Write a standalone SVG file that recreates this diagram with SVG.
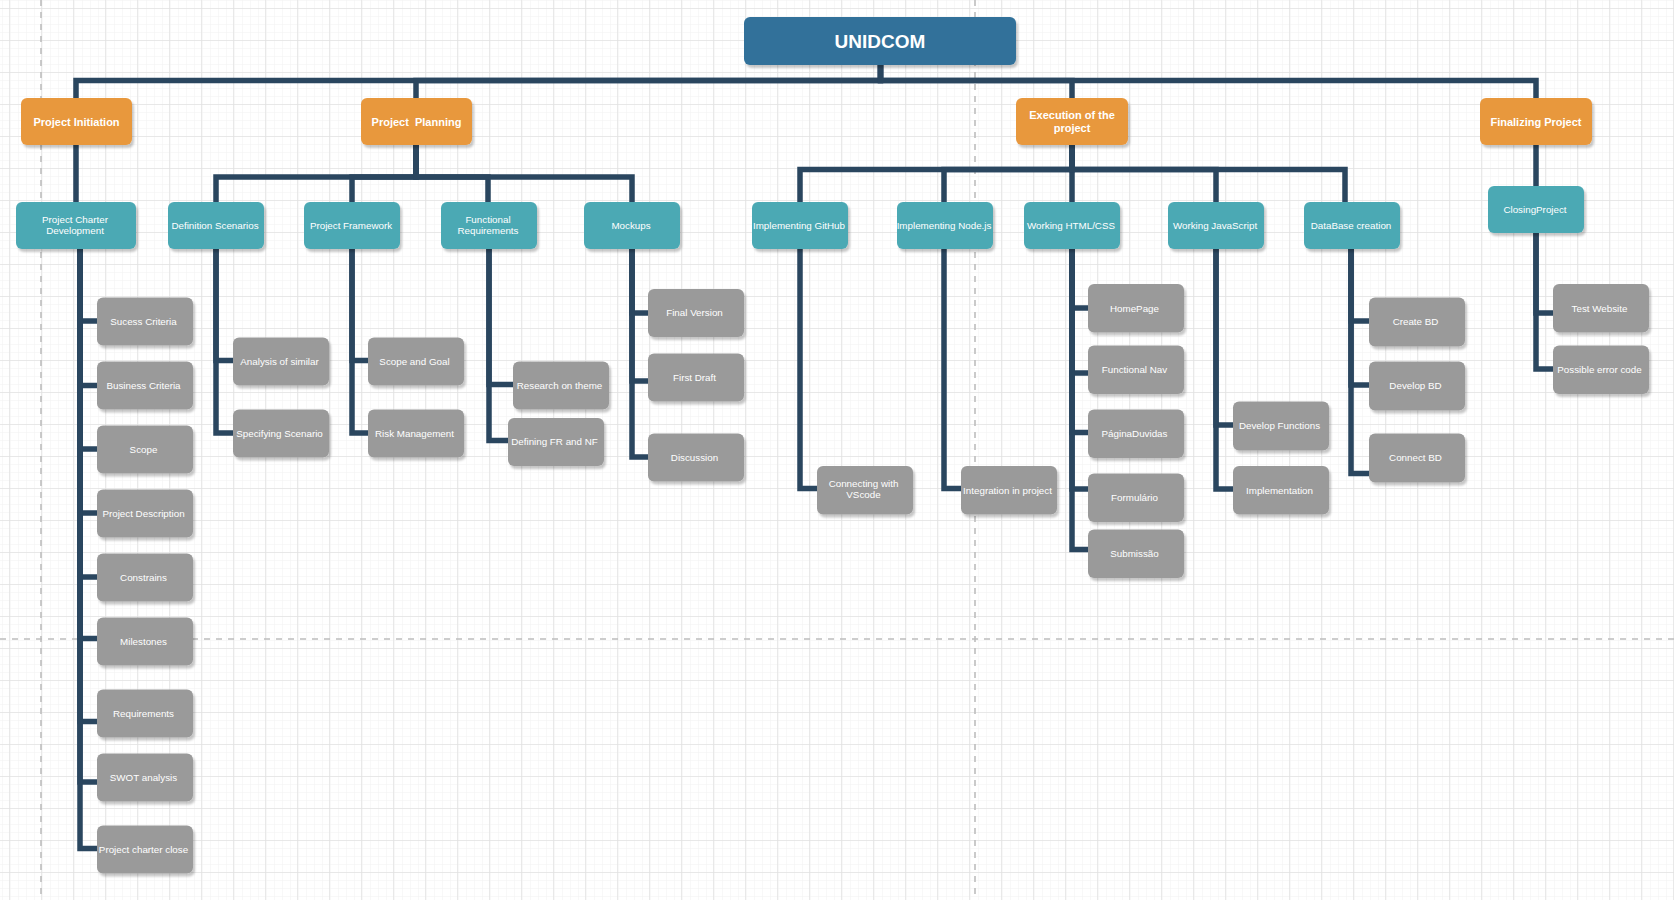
<svg xmlns="http://www.w3.org/2000/svg" width="1674" height="900" viewBox="0 0 1674 900">
  <defs>
    <pattern id="gridMinor" width="8" height="8" patternUnits="userSpaceOnUse" x="9" y="8">
      <path d="M0 0H8M0 0V8" fill="none" stroke="#f1f1f1" stroke-width="1"/>
    </pattern>
    <pattern id="gridMajor" width="32" height="32" patternUnits="userSpaceOnUse" x="9" y="8">
      <rect width="32" height="32" fill="url(#gridMinor)"/>
      <path d="M0 0H32M0 0V32" fill="none" stroke="#e2e2e2" stroke-width="1.5"/>
    </pattern>
    <filter id="shadow" x="-10%" y="-10%" width="130%" height="140%">
      <feDropShadow dx="2" dy="3" stdDeviation="0.8" flood-color="#000" flood-opacity="0.22"/>
    </filter>
  </defs>
  <style>
    .node rect { filter: url(#shadow); }
    .root rect { fill: #30719A; }
    .phase rect { fill: #E8983E; }
    .group rect { fill: #4CA9B4; }
    .task rect { fill: #9A9A9A; }
    text { font-family: "Liberation Sans", Arial, Helvetica, sans-serif; fill: #ffffff; text-anchor: middle; }
    .root text { font-size: 19px; font-weight: bold; }
    .phase text { font-size: 11px; font-weight: bold; }
    .group text, .task text { font-size: 9.8px; }
    .edges path { fill: none; stroke: #2A465F; stroke-width: 5.5; stroke-linejoin: miter; stroke-linecap: butt; }
    .pagebreak { fill: none; stroke: #bdbdbd; stroke-width: 1.6; stroke-dasharray: 6 6; }
  </style>

  <!-- canvas grid -->
  <rect width="1674" height="900" fill="#ffffff"/>
  <rect width="1674" height="900" fill="url(#gridMajor)"/>

  <!-- page break guides -->
  <g id="page-breaks">
    <path class="pagebreak" d="M41 0V900"/>
    <path class="pagebreak" d="M975 0V900"/>
    <path class="pagebreak" d="M0 639H1674"/>
  </g>

  <!-- connectors -->
  <g id="connectors" class="edges">
    <!-- root to phases -->
    <path d="M880.5 65V80.5H76V98"/>
    <path d="M880.5 65V80.5H416V98"/>
    <path d="M880.5 65V80.5H1072V98"/>
    <path d="M880.5 65V80.5H1536V98"/>
    <!-- phases to work packages -->
    <path d="M76 145V202"/>
    <path d="M416 145V177H216V202"/>
    <path d="M416 145V177H352V202"/>
    <path d="M416 145V177H488V202"/>
    <path d="M416 145V177H632V202"/>
    <path d="M1072 145V169.5H800V202"/>
    <path d="M1072 145V169.5H944V202"/>
    <path d="M1072 145V169.5H1072V202"/>
    <path d="M1072 145V169.5H1216V202"/>
    <path d="M1072 145V169.5H1345V202"/>
    <path d="M1536 145V186"/>
    <!-- Project Charter Development -->
    <path d="M80 249V321H97"/>
    <path d="M80 249V385.5H97"/>
    <path d="M80 249V449H97"/>
    <path d="M80 249V513H97"/>
    <path d="M80 249V577H97"/>
    <path d="M80 249V638.5H97"/>
    <path d="M80 249V721.5H97"/>
    <path d="M80 249V782H97"/>
    <path d="M80 249V848.5H97"/>
    <!-- Definition Scenarios -->
    <path d="M216 249V360.5H233"/>
    <path d="M216 249V433H233"/>
    <!-- Project Framework -->
    <path d="M352 249V360.5H368"/>
    <path d="M352 249V433H368"/>
    <!-- Functional Requirements -->
    <path d="M489 249V384.5H513"/>
    <path d="M489 249V440.5H508"/>
    <!-- Mockups -->
    <path d="M632 249V313H648"/>
    <path d="M632 249V381H648"/>
    <path d="M632 249V457H648"/>
    <!-- Implementing GitHub / Node.js -->
    <path d="M800 249V488.5H817"/>
    <path d="M944 249V488.5H961"/>
    <!-- Working HTML/CSS -->
    <path d="M1072 249V308H1088"/>
    <path d="M1072 249V373H1088"/>
    <path d="M1072 249V432.5H1088"/>
    <path d="M1072 249V489H1088"/>
    <path d="M1072 249V549.5H1088"/>
    <!-- Working JavaScript -->
    <path d="M1216 249V425H1233"/>
    <path d="M1216 249V489H1233"/>
    <!-- DataBase creation -->
    <path d="M1351 249V321H1369"/>
    <path d="M1351 249V385H1369"/>
    <path d="M1351 249V473.5H1369"/>
    <!-- ClosingProject -->
    <path d="M1536 233V313H1553"/>
    <path d="M1536 233V369H1553"/>
  </g>

  <!-- root -->
  <g id="unidcom" class="node root">
    <rect x="744" y="17" width="272" height="48" rx="6"/>
    <text x="880" y="47.5">UNIDCOM</text>
  </g>

  <!-- phases -->
  <g id="project-initiation" class="node phase">
    <rect x="21" y="98" width="111" height="47" rx="6"/>
    <text x="76.5" y="125.5">Project Initiation</text>
  </g>
  <g id="project-planning" class="node phase">
    <rect x="361" y="98" width="111" height="47" rx="6"/>
    <text x="416.5" y="125.5" xml:space="preserve">Project  Planning</text>
  </g>
  <g id="execution" class="node phase">
    <rect x="1016" y="98" width="112" height="47" rx="6"/>
    <text x="1072" y="119">Execution of the</text>
    <text x="1072" y="132">project</text>
  </g>
  <g id="finalizing-project" class="node phase">
    <rect x="1480" y="98" width="112" height="47" rx="6"/>
    <text x="1536" y="125.5">Finalizing Project</text>
  </g>

  <!-- work packages -->
  <g id="project-charter-development" class="node group">
    <rect x="16" y="202" width="120" height="47" rx="6"/>
    <text x="75" y="222.5">Project Charter</text>
    <text x="75" y="234">Development</text>
  </g>
  <g id="definition-scenarios" class="node group">
    <rect x="168" y="202" width="96" height="47" rx="6"/>
    <text x="215" y="228.5">Definition Scenarios</text>
  </g>
  <g id="project-framework" class="node group">
    <rect x="304" y="202" width="96" height="47" rx="6"/>
    <text x="351" y="228.5">Project Framework</text>
  </g>
  <g id="functional-requirements" class="node group">
    <rect x="441" y="202" width="96" height="47" rx="6"/>
    <text x="488" y="222.5">Functional</text>
    <text x="488" y="234">Requirements</text>
  </g>
  <g id="mockups" class="node group">
    <rect x="584" y="202" width="96" height="47" rx="6"/>
    <text x="631" y="228.5">Mockups</text>
  </g>
  <g id="implementing-github" class="node group">
    <rect x="752" y="202" width="96" height="47" rx="6"/>
    <text x="799" y="228.5">Implementing GitHub</text>
  </g>
  <g id="implementing-nodejs" class="node group">
    <rect x="897" y="202" width="96" height="47" rx="6"/>
    <text x="944" y="228.5">Implementing Node.js</text>
  </g>
  <g id="working-html-css" class="node group">
    <rect x="1024" y="202" width="96" height="47" rx="6"/>
    <text x="1071" y="228.5">Working HTML/CSS</text>
  </g>
  <g id="working-javascript" class="node group">
    <rect x="1168" y="202" width="96" height="47" rx="6"/>
    <text x="1215" y="228.5">Working JavaScript</text>
  </g>
  <g id="database-creation" class="node group">
    <rect x="1304" y="202" width="96" height="47" rx="6"/>
    <text x="1351" y="228.5">DataBase creation</text>
  </g>
  <g id="closing-project" class="node group">
    <rect x="1488" y="186" width="96" height="47" rx="6"/>
    <text x="1535" y="212.5">ClosingProject</text>
  </g>

  <!-- tasks: Project Charter Development -->
  <g id="sucess-criteria" class="node task">
    <rect x="97" y="297.5" width="96" height="48" rx="6"/>
    <text x="143.5" y="324.5">Sucess Criteria</text>
  </g>
  <g id="business-criteria" class="node task">
    <rect x="97" y="361.5" width="96" height="48" rx="6"/>
    <text x="143.5" y="388.5">Business Criteria</text>
  </g>
  <g id="scope" class="node task">
    <rect x="97" y="425.5" width="96" height="48" rx="6"/>
    <text x="143.5" y="452.5">Scope</text>
  </g>
  <g id="project-description" class="node task">
    <rect x="97" y="489.5" width="96" height="48" rx="6"/>
    <text x="143.5" y="516.5">Project Description</text>
  </g>
  <g id="constrains" class="node task">
    <rect x="97" y="553.5" width="96" height="48" rx="6"/>
    <text x="143.5" y="580.5">Constrains</text>
  </g>
  <g id="milestones" class="node task">
    <rect x="97" y="617.5" width="96" height="48" rx="6"/>
    <text x="143.5" y="644.5">Milestones</text>
  </g>
  <g id="requirements" class="node task">
    <rect x="97" y="689.5" width="96" height="48" rx="6"/>
    <text x="143.5" y="716.5">Requirements</text>
  </g>
  <g id="swot-analysis" class="node task">
    <rect x="97" y="753.5" width="96" height="48" rx="6"/>
    <text x="143.5" y="780.5">SWOT analysis</text>
  </g>
  <g id="project-charter-close" class="node task">
    <rect x="97" y="825.5" width="96" height="48" rx="6"/>
    <text x="143.5" y="852.5">Project charter close</text>
  </g>

  <!-- tasks: Definition Scenarios -->
  <g id="analysis-of-similar" class="node task">
    <rect x="233" y="337.5" width="96" height="48" rx="6"/>
    <text x="279.5" y="364.5">Analysis of similar</text>
  </g>
  <g id="specifying-scenario" class="node task">
    <rect x="233" y="409.5" width="96" height="48" rx="6"/>
    <text x="279.5" y="436.5">Specifying Scenario</text>
  </g>

  <!-- tasks: Project Framework -->
  <g id="scope-and-goal" class="node task">
    <rect x="368" y="337.5" width="96" height="48" rx="6"/>
    <text x="414.5" y="364.5">Scope and Goal</text>
  </g>
  <g id="risk-management" class="node task">
    <rect x="368" y="409.5" width="96" height="48" rx="6"/>
    <text x="414.5" y="436.5">Risk Management</text>
  </g>

  <!-- tasks: Functional Requirements -->
  <g id="research-on-theme" class="node task">
    <rect x="513" y="361.5" width="96" height="48" rx="6"/>
    <text x="559.5" y="388.5">Research on theme</text>
  </g>
  <g id="defining-fr-nf" class="node task">
    <rect x="508" y="418" width="96" height="48" rx="6"/>
    <text x="554.5" y="445">Defining FR and NF</text>
  </g>

  <!-- tasks: Mockups -->
  <g id="final-version" class="node task">
    <rect x="648" y="289" width="96" height="48" rx="6"/>
    <text x="694.5" y="316">Final Version</text>
  </g>
  <g id="first-draft" class="node task">
    <rect x="648" y="353.5" width="96" height="48" rx="6"/>
    <text x="694.5" y="380.5">First Draft</text>
  </g>
  <g id="discussion" class="node task">
    <rect x="648" y="433.5" width="96" height="48" rx="6"/>
    <text x="694.5" y="460.5">Discussion</text>
  </g>

  <!-- tasks: Implementing GitHub / Node.js -->
  <g id="connecting-vscode" class="node task">
    <rect x="817" y="466" width="96" height="48.5" rx="6"/>
    <text x="863.5" y="486.5">Connecting with</text>
    <text x="863.5" y="498">VScode</text>
  </g>
  <g id="integration-in-project" class="node task">
    <rect x="961" y="466" width="96" height="48.5" rx="6"/>
    <text x="1007.5" y="493.5">Integration in project</text>
  </g>

  <!-- tasks: Working HTML/CSS -->
  <g id="homepage" class="node task">
    <rect x="1088" y="284" width="96" height="48.5" rx="6"/>
    <text x="1134.5" y="311.5">HomePage</text>
  </g>
  <g id="functional-nav" class="node task">
    <rect x="1088" y="345.5" width="96" height="48.5" rx="6"/>
    <text x="1134.5" y="373">Functional Nav</text>
  </g>
  <g id="pagina-duvidas" class="node task">
    <rect x="1088" y="409.5" width="96" height="48.5" rx="6"/>
    <text x="1134.5" y="437">PáginaDuvidas</text>
  </g>
  <g id="formulario" class="node task">
    <rect x="1088" y="473.5" width="96" height="48.5" rx="6"/>
    <text x="1134.5" y="501">Formulário</text>
  </g>
  <g id="submissao" class="node task">
    <rect x="1088" y="529.5" width="96" height="48.5" rx="6"/>
    <text x="1134.5" y="557">Submissão</text>
  </g>

  <!-- tasks: Working JavaScript -->
  <g id="develop-functions" class="node task">
    <rect x="1233" y="401.5" width="96" height="49" rx="6"/>
    <text x="1279.5" y="429">Develop Functions</text>
  </g>
  <g id="implementation" class="node task">
    <rect x="1233" y="466" width="96" height="48.5" rx="6"/>
    <text x="1279.5" y="493.5">Implementation</text>
  </g>

  <!-- tasks: DataBase creation -->
  <g id="create-bd" class="node task">
    <rect x="1369" y="297.5" width="96" height="49" rx="6"/>
    <text x="1415.5" y="325">Create BD</text>
  </g>
  <g id="develop-bd" class="node task">
    <rect x="1369" y="361.5" width="96" height="49" rx="6"/>
    <text x="1415.5" y="389">Develop BD</text>
  </g>
  <g id="connect-bd" class="node task">
    <rect x="1369" y="433.5" width="96" height="49" rx="6"/>
    <text x="1415.5" y="461">Connect BD</text>
  </g>

  <!-- tasks: ClosingProject -->
  <g id="test-website" class="node task">
    <rect x="1553" y="284" width="96" height="48.5" rx="6"/>
    <text x="1599.5" y="311.5">Test Website</text>
  </g>
  <g id="possible-error-code" class="node task">
    <rect x="1553" y="345.5" width="96" height="48.5" rx="6"/>
    <text x="1599.5" y="373">Possible error code</text>
  </g>
</svg>
